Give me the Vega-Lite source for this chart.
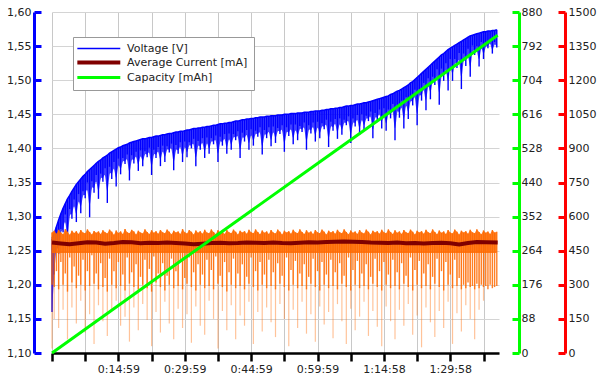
{
"$schema":"https://vega.github.io/schema/vega-lite/v6.json",
"width":447,"height":341,
"autosize":"none",
"padding":{"left":52,"top":12,"right":101,"bottom":27},
"background":"white",
"config":{"view":{"stroke":null},"font":"DejaVu Sans","axis":{"labelFont":"DejaVu Sans","labelFontSize":11,"labelColor":"#222"}},
"datasets":{
"samples":[
{"t":0,"vmax":1.268,"vmin":1.160,"imax":530,"imin":300,"ispike":20},
{"t":0.5,"vmax":1.275,"vmin":1.215,"imax":538,"imin":290,"ispike":150},
{"t":1,"vmax":1.285,"vmin":1.262,"imax":525,"imin":360},
{"t":1.5,"vmax":1.295,"vmin":1.245,"imax":542,"imin":280,"ispike":110},
{"t":2,"vmax":1.304,"vmin":1.282,"imax":530,"imin":400},
{"t":2.5,"vmax":1.312,"vmin":1.277,"imax":522,"imin":300,"ispike":190},
{"t":3,"vmax":1.319,"vmin":1.303,"imax":545,"imin":350},
{"t":3.5,"vmax":1.326,"vmin":1.256,"imax":533,"imin":270,"ispike":60},
{"t":4,"vmax":1.331,"vmin":1.311,"imax":520,"imin":420},
{"t":4.5,"vmax":1.337,"vmin":1.297,"imax":538,"imin":310,"ispike":200},
{"t":5,"vmax":1.342,"vmin":1.325,"imax":528,"imin":380},
{"t":5.5,"vmax":1.347,"vmin":1.292,"imax":536,"imin":285,"ispike":130},
{"t":6,"vmax":1.351,"vmin":1.333,"imax":524,"imin":340},
{"t":6.5,"vmax":1.355,"vmin":1.305,"imax":541,"imin":300,"ispike":230},
{"t":7,"vmax":1.359,"vmin":1.337,"imax":530,"imin":410},
{"t":7.5,"vmax":1.362,"vmin":1.327,"imax":527,"imin":275,"ispike":90},
{"t":8,"vmax":1.366,"vmin":1.350,"imax":544,"imin":360},
{"t":8.5,"vmax":1.369,"vmin":1.299,"imax":532,"imin":295,"ispike":170},
{"t":9,"vmax":1.372,"vmin":1.352,"imax":521,"imin":430},
{"t":9.5,"vmax":1.375,"vmin":1.335,"imax":537,"imin":305,"ispike":40},
{"t":10,"vmax":1.378,"vmin":1.361,"imax":529,"imin":350},
{"t":10.5,"vmax":1.381,"vmin":1.326,"imax":535,"imin":280,"ispike":210},
{"t":11,"vmax":1.383,"vmin":1.363,"imax":523,"imin":395},
{"t":11.5,"vmax":1.386,"vmin":1.351,"imax":540,"imin":290,"ispike":140},
{"t":12,"vmax":1.388,"vmin":1.371,"imax":531,"imin":330},
{"t":12.5,"vmax":1.390,"vmin":1.320,"imax":526,"imin":270,"ispike":75},
{"t":13,"vmax":1.393,"vmin":1.373,"imax":543,"imin":415},
{"t":13.5,"vmax":1.395,"vmin":1.355,"imax":533,"imin":300,"ispike":185},
{"t":14,"vmax":1.397,"vmin":1.380,"imax":520,"imin":360},
{"t":14.5,"vmax":1.399,"vmin":1.344,"imax":539,"imin":285,"ispike":230},
{"t":15,"vmax":1.401,"vmin":1.385,"imax":528,"imin":400},
{"t":15.5,"vmax":1.402,"vmin":1.362,"imax":535,"imin":295,"ispike":120},
{"t":16,"vmax":1.404,"vmin":1.386,"imax":524,"imin":345},
{"t":16.5,"vmax":1.405,"vmin":1.377,"imax":546,"imin":275,"ispike":160},
{"t":17,"vmax":1.406,"vmin":1.391,"imax":531,"imin":420},
{"t":17.5,"vmax":1.408,"vmin":1.353,"imax":527,"imin":305,"ispike":50},
{"t":18,"vmax":1.409,"vmin":1.390,"imax":542,"imin":355},
{"t":18.5,"vmax":1.410,"vmin":1.378,"imax":534,"imin":290,"ispike":200},
{"t":19,"vmax":1.411,"vmin":1.395,"imax":521,"imin":390},
{"t":19.5,"vmax":1.412,"vmin":1.367,"imax":538,"imin":280,"ispike":100},
{"t":20,"vmax":1.413,"vmin":1.397,"imax":530,"imin":335},
{"t":20.5,"vmax":1.414,"vmin":1.374,"imax":526,"imin":300,"ispike":215},
{"t":21,"vmax":1.414,"vmin":1.396,"imax":544,"imin":410},
{"t":21.5,"vmax":1.415,"vmin":1.387,"imax":532,"imin":285,"ispike":145},
{"t":22,"vmax":1.416,"vmin":1.401,"imax":523,"imin":370},
{"t":22.5,"vmax":1.416,"vmin":1.361,"imax":540,"imin":270,"ispike":30},
{"t":23,"vmax":1.417,"vmin":1.398,"imax":529,"imin":425},
{"t":23.5,"vmax":1.418,"vmin":1.386,"imax":536,"imin":310,"ispike":180},
{"t":24,"vmax":1.418,"vmin":1.402,"imax":525,"imin":350},
{"t":24.5,"vmax":1.419,"vmin":1.374,"imax":541,"imin":290,"ispike":90},
{"t":25,"vmax":1.420,"vmin":1.404,"imax":531,"imin":395},
{"t":25.5,"vmax":1.420,"vmin":1.380,"imax":527,"imin":275,"ispike":225},
{"t":26,"vmax":1.421,"vmin":1.403,"imax":543,"imin":340},
{"t":26.5,"vmax":1.422,"vmin":1.394,"imax":533,"imin":300,"ispike":130},
{"t":27,"vmax":1.422,"vmin":1.407,"imax":522,"imin":415},
{"t":27.5,"vmax":1.423,"vmin":1.368,"imax":538,"imin":285,"ispike":60},
{"t":28,"vmax":1.424,"vmin":1.405,"imax":530,"imin":360},
{"t":28.5,"vmax":1.424,"vmin":1.392,"imax":535,"imin":295,"ispike":195},
{"t":29,"vmax":1.425,"vmin":1.409,"imax":524,"imin":400},
{"t":29.5,"vmax":1.425,"vmin":1.380,"imax":545,"imin":280,"ispike":110},
{"t":30,"vmax":1.426,"vmin":1.410,"imax":531,"imin":330},
{"t":30.5,"vmax":1.427,"vmin":1.387,"imax":526,"imin":305,"ispike":170},
{"t":31,"vmax":1.427,"vmin":1.409,"imax":541,"imin":420},
{"t":31.5,"vmax":1.428,"vmin":1.400,"imax":533,"imin":290,"ispike":45},
{"t":32,"vmax":1.429,"vmin":1.414,"imax":521,"imin":355},
{"t":32.5,"vmax":1.429,"vmin":1.374,"imax":539,"imin":275,"ispike":205},
{"t":33,"vmax":1.430,"vmin":1.411,"imax":529,"imin":390},
{"t":33.5,"vmax":1.430,"vmin":1.398,"imax":536,"imin":300,"ispike":120},
{"t":34,"vmax":1.431,"vmin":1.415,"imax":525,"imin":345},
{"t":34.5,"vmax":1.431,"vmin":1.386,"imax":542,"imin":285,"ispike":80},
{"t":35,"vmax":1.432,"vmin":1.416,"imax":530,"imin":410},
{"t":35.5,"vmax":1.432,"vmin":1.392,"imax":527,"imin":295,"ispike":230},
{"t":36,"vmax":1.433,"vmin":1.415,"imax":544,"imin":365},
{"t":36.5,"vmax":1.434,"vmin":1.406,"imax":532,"imin":280,"ispike":150},
{"t":37,"vmax":1.434,"vmin":1.419,"imax":523,"imin":425},
{"t":37.5,"vmax":1.435,"vmin":1.380,"imax":540,"imin":305,"ispike":20},
{"t":38,"vmax":1.436,"vmin":1.417,"imax":529,"imin":340},
{"t":38.5,"vmax":1.436,"vmin":1.404,"imax":535,"imin":290,"ispike":185},
{"t":39,"vmax":1.437,"vmin":1.421,"imax":524,"imin":400},
{"t":39.5,"vmax":1.437,"vmin":1.392,"imax":541,"imin":270,"ispike":100},
{"t":40,"vmax":1.438,"vmin":1.422,"imax":531,"imin":355},
{"t":40.5,"vmax":1.438,"vmin":1.398,"imax":527,"imin":300,"ispike":210},
{"t":41,"vmax":1.439,"vmin":1.421,"imax":543,"imin":415},
{"t":41.5,"vmax":1.440,"vmin":1.412,"imax":533,"imin":285,"ispike":60},
{"t":42,"vmax":1.440,"vmin":1.425,"imax":521,"imin":350},
{"t":42.5,"vmax":1.441,"vmin":1.386,"imax":538,"imin":295,"ispike":165},
{"t":43,"vmax":1.442,"vmin":1.423,"imax":530,"imin":390},
{"t":43.5,"vmax":1.442,"vmin":1.410,"imax":536,"imin":280,"ispike":120},
{"t":44,"vmax":1.443,"vmin":1.427,"imax":525,"imin":335},
{"t":44.5,"vmax":1.443,"vmin":1.398,"imax":542,"imin":305,"ispike":225},
{"t":45,"vmax":1.444,"vmin":1.428,"imax":531,"imin":420},
{"t":45.5,"vmax":1.444,"vmin":1.404,"imax":527,"imin":290,"ispike":40},
{"t":46,"vmax":1.445,"vmin":1.426,"imax":544,"imin":360},
{"t":46.5,"vmax":1.445,"vmin":1.417,"imax":532,"imin":275,"ispike":180},
{"t":47,"vmax":1.446,"vmin":1.431,"imax":522,"imin":400},
{"t":47.5,"vmax":1.446,"vmin":1.391,"imax":539,"imin":300,"ispike":95},
{"t":48,"vmax":1.446,"vmin":1.427,"imax":529,"imin":345},
{"t":48.5,"vmax":1.447,"vmin":1.415,"imax":535,"imin":285,"ispike":200},
{"t":49,"vmax":1.447,"vmin":1.431,"imax":524,"imin":410},
{"t":49.5,"vmax":1.448,"vmin":1.403,"imax":541,"imin":295,"ispike":135},
{"t":50,"vmax":1.448,"vmin":1.432,"imax":530,"imin":355},
{"t":50.5,"vmax":1.448,"vmin":1.408,"imax":526,"imin":280,"ispike":70},
{"t":51,"vmax":1.449,"vmin":1.430,"imax":543,"imin":395},
{"t":51.5,"vmax":1.449,"vmin":1.421,"imax":533,"imin":305,"ispike":215},
{"t":52,"vmax":1.449,"vmin":1.434,"imax":521,"imin":340},
{"t":52.5,"vmax":1.450,"vmin":1.395,"imax":538,"imin":290,"ispike":150},
{"t":53,"vmax":1.450,"vmin":1.431,"imax":530,"imin":420},
{"t":53.5,"vmax":1.450,"vmin":1.418,"imax":536,"imin":275,"ispike":30},
{"t":54,"vmax":1.451,"vmin":1.435,"imax":525,"imin":365},
{"t":54.5,"vmax":1.451,"vmin":1.406,"imax":542,"imin":300,"ispike":190},
{"t":55,"vmax":1.451,"vmin":1.435,"imax":531,"imin":405},
{"t":55.5,"vmax":1.452,"vmin":1.412,"imax":527,"imin":285,"ispike":110},
{"t":56,"vmax":1.452,"vmin":1.433,"imax":544,"imin":350},
{"t":56.5,"vmax":1.452,"vmin":1.424,"imax":532,"imin":295,"ispike":225},
{"t":57,"vmax":1.453,"vmin":1.438,"imax":523,"imin":390},
{"t":57.5,"vmax":1.453,"vmin":1.398,"imax":540,"imin":280,"ispike":85},
{"t":58,"vmax":1.453,"vmin":1.434,"imax":529,"imin":335},
{"t":58.5,"vmax":1.454,"vmin":1.422,"imax":535,"imin":305,"ispike":170},
{"t":59,"vmax":1.454,"vmin":1.438,"imax":524,"imin":415},
{"t":59.5,"vmax":1.455,"vmin":1.410,"imax":541,"imin":290,"ispike":50},
{"t":60,"vmax":1.455,"vmin":1.439,"imax":531,"imin":360},
{"t":60.5,"vmax":1.455,"vmin":1.415,"imax":527,"imin":275,"ispike":205},
{"t":61,"vmax":1.456,"vmin":1.437,"imax":543,"imin":400},
{"t":61.5,"vmax":1.456,"vmin":1.428,"imax":533,"imin":300,"ispike":125},
{"t":62,"vmax":1.457,"vmin":1.442,"imax":521,"imin":345},
{"t":62.5,"vmax":1.457,"vmin":1.402,"imax":538,"imin":285,"ispike":180},
{"t":63,"vmax":1.458,"vmin":1.439,"imax":530,"imin":410},
{"t":63.5,"vmax":1.458,"vmin":1.426,"imax":536,"imin":295,"ispike":65},
{"t":64,"vmax":1.459,"vmin":1.443,"imax":525,"imin":355},
{"t":64.5,"vmax":1.459,"vmin":1.414,"imax":542,"imin":280,"ispike":215},
{"t":65,"vmax":1.460,"vmin":1.444,"imax":531,"imin":395},
{"t":65.5,"vmax":1.460,"vmin":1.420,"imax":527,"imin":305,"ispike":140},
{"t":66,"vmax":1.461,"vmin":1.442,"imax":544,"imin":340},
{"t":66.5,"vmax":1.462,"vmin":1.434,"imax":532,"imin":290,"ispike":40},
{"t":67,"vmax":1.462,"vmin":1.447,"imax":522,"imin":420},
{"t":67.5,"vmax":1.463,"vmin":1.408,"imax":539,"imin":275,"ispike":195},
{"t":68,"vmax":1.463,"vmin":1.444,"imax":529,"imin":365},
{"t":68.5,"vmax":1.464,"vmin":1.432,"imax":535,"imin":300,"ispike":100},
{"t":69,"vmax":1.465,"vmin":1.449,"imax":524,"imin":405},
{"t":69.5,"vmax":1.465,"vmin":1.420,"imax":541,"imin":285,"ispike":160},
{"t":70,"vmax":1.466,"vmin":1.450,"imax":530,"imin":350},
{"t":70.5,"vmax":1.467,"vmin":1.427,"imax":526,"imin":295,"ispike":225},
{"t":71,"vmax":1.467,"vmin":1.448,"imax":543,"imin":390},
{"t":71.5,"vmax":1.468,"vmin":1.440,"imax":533,"imin":280,"ispike":75},
{"t":72,"vmax":1.469,"vmin":1.454,"imax":521,"imin":335},
{"t":72.5,"vmax":1.470,"vmin":1.415,"imax":538,"imin":305,"ispike":185},
{"t":73,"vmax":1.471,"vmin":1.452,"imax":530,"imin":415},
{"t":73.5,"vmax":1.472,"vmin":1.440,"imax":536,"imin":290,"ispike":115},
{"t":74,"vmax":1.473,"vmin":1.457,"imax":525,"imin":360},
{"t":74.5,"vmax":1.474,"vmin":1.429,"imax":542,"imin":275,"ispike":30},
{"t":75,"vmax":1.475,"vmin":1.459,"imax":531,"imin":400},
{"t":75.5,"vmax":1.476,"vmin":1.426,"imax":527,"imin":300,"ispike":205},
{"t":76,"vmax":1.477,"vmin":1.457,"imax":544,"imin":345},
{"t":76.5,"vmax":1.479,"vmin":1.444,"imax":532,"imin":285,"ispike":140},
{"t":77,"vmax":1.480,"vmin":1.465,"imax":523,"imin":410},
{"t":77.5,"vmax":1.482,"vmin":1.412,"imax":540,"imin":295,"ispike":60},
{"t":78,"vmax":1.484,"vmin":1.464,"imax":529,"imin":355},
{"t":78.5,"vmax":1.485,"vmin":1.445,"imax":535,"imin":280,"ispike":190},
{"t":79,"vmax":1.487,"vmin":1.470,"imax":524,"imin":395},
{"t":79.5,"vmax":1.489,"vmin":1.429,"imax":541,"imin":305,"ispike":120},
{"t":80,"vmax":1.491,"vmin":1.475,"imax":531,"imin":340},
{"t":80.5,"vmax":1.493,"vmin":1.443,"imax":527,"imin":290,"ispike":215},
{"t":81,"vmax":1.496,"vmin":1.476,"imax":543,"imin":420},
{"t":81.5,"vmax":1.498,"vmin":1.463,"imax":533,"imin":275,"ispike":80},
{"t":82,"vmax":1.501,"vmin":1.486,"imax":521,"imin":365},
{"t":82.5,"vmax":1.504,"vmin":1.434,"imax":538,"imin":300,"ispike":165},
{"t":83,"vmax":1.507,"vmin":1.487,"imax":530,"imin":405},
{"t":83.5,"vmax":1.510,"vmin":1.470,"imax":536,"imin":285,"ispike":25},
{"t":84,"vmax":1.513,"vmin":1.496,"imax":525,"imin":350},
{"t":84.5,"vmax":1.516,"vmin":1.456,"imax":542,"imin":295,"ispike":200},
{"t":85,"vmax":1.519,"vmin":1.503,"imax":531,"imin":390},
{"t":85.5,"vmax":1.522,"vmin":1.472,"imax":527,"imin":280,"ispike":135},
{"t":86,"vmax":1.525,"vmin":1.505,"imax":544,"imin":335},
{"t":86.5,"vmax":1.528,"vmin":1.493,"imax":532,"imin":305,"ispike":70},
{"t":87,"vmax":1.531,"vmin":1.516,"imax":522,"imin":415},
{"t":87.5,"vmax":1.534,"vmin":1.464,"imax":539,"imin":290,"ispike":185},
{"t":88,"vmax":1.537,"vmin":1.517,"imax":529,"imin":360},
{"t":88.5,"vmax":1.539,"vmin":1.499,"imax":535,"imin":275,"ispike":110},
{"t":89,"vmax":1.542,"vmin":1.525,"imax":524,"imin":400},
{"t":89.5,"vmax":1.545,"vmin":1.485,"imax":541,"imin":300,"ispike":225},
{"t":90,"vmax":1.547,"vmin":1.531,"imax":530,"imin":345},
{"t":90.5,"vmax":1.549,"vmin":1.499,"imax":526,"imin":285,"ispike":40},
{"t":91,"vmax":1.551,"vmin":1.531,"imax":543,"imin":410},
{"t":91.5,"vmax":1.553,"vmin":1.518,"imax":533,"imin":295,"ispike":175},
{"t":92,"vmax":1.555,"vmin":1.540,"imax":521,"imin":330},
{"t":92.5,"vmax":1.557,"vmin":1.487,"imax":538,"imin":280,"ispike":95},
{"t":93,"vmax":1.559,"vmin":1.539,"imax":530,"imin":300},
{"t":93.5,"vmax":1.561,"vmin":1.521,"imax":536,"imin":285,"ispike":210},
{"t":94,"vmax":1.563,"vmin":1.546,"imax":525,"imin":310},
{"t":94.5,"vmax":1.565,"vmin":1.505,"imax":542,"imin":290,"ispike":150},
{"t":95,"vmax":1.566,"vmin":1.551,"imax":531,"imin":295},
{"t":95.5,"vmax":1.567,"vmin":1.537,"imax":527,"imin":280,"ispike":60},
{"t":96,"vmax":1.568,"vmin":1.550,"imax":544,"imin":305},
{"t":96.5,"vmax":1.569,"vmin":1.520,"imax":532,"imin":285,"ispike":190},
{"t":97,"vmax":1.570,"vmin":1.556,"imax":522,"imin":300},
{"t":97.5,"vmax":1.571,"vmin":1.531,"imax":539,"imin":290,"ispike":230},
{"t":98,"vmax":1.571,"vmin":1.553,"imax":529,"imin":295},
{"t":98.5,"vmax":1.572,"vmin":1.547,"imax":535,"imin":280},
{"t":99,"vmax":1.572,"vmin":1.558,"imax":524,"imin":300},
{"t":99.5,"vmax":1.573,"vmin":1.539,"imax":541,"imin":285},
{"t":100,"vmax":1.573,"vmin":1.556,"imax":530,"imin":290},
{"t":100.5,"vmax":1.574,"vmin":1.548,"imax":533,"imin":295}
],
"avg":[
{"t":0,"mA":486},{"t":2,"mA":482},{"t":4,"mA":478},{"t":6,"mA":483},{"t":8,"mA":487},{"t":10,"mA":486},{"t":12,"mA":481},{"t":14,"mA":484},{"t":16,"mA":488},{"t":18,"mA":487},{"t":20,"mA":483},{"t":22,"mA":485},{"t":24,"mA":484},{"t":26,"mA":486},{"t":28,"mA":484},{"t":30,"mA":482},{"t":32,"mA":478},{"t":34,"mA":481},{"t":36,"mA":484},{"t":38,"mA":485},{"t":40,"mA":483},{"t":42,"mA":484},{"t":44,"mA":486},{"t":46,"mA":485},{"t":48,"mA":484},{"t":50,"mA":486},{"t":52,"mA":484},{"t":54,"mA":483},{"t":56,"mA":485},{"t":58,"mA":487},{"t":60,"mA":486},{"t":62,"mA":488},{"t":64,"mA":489},{"t":66,"mA":490},{"t":68,"mA":489},{"t":70,"mA":488},{"t":72,"mA":486},{"t":74,"mA":485},{"t":76,"mA":484},{"t":78,"mA":486},{"t":80,"mA":483},{"t":82,"mA":484},{"t":84,"mA":482},{"t":86,"mA":484},{"t":88,"mA":485},{"t":90,"mA":483},{"t":92,"mA":477},{"t":94,"mA":484},{"t":96,"mA":488},{"t":98,"mA":487},{"t":100.7,"mA":486}
],
"cap":[
{"t":0,"mAh":0},{"t":30,"mAh":245},{"t":60,"mAh":489},{"t":90,"mAh":733},{"t":100.7,"mAh":820}
]
},
"encoding":{
"x":{"field":"t","type":"quantitative","scale":{"domain":[0,101],"nice":false,"zero":false},
"axis":{"title":null,"values":[0,7.5,15,22.5,30,37.5,45,52.5,60,67.5,75,82.5,90,97.5],
"labelExpr":"datum.value==15?'0:14:59':datum.value==30?'0:29:59':datum.value==45?'0:44:59':datum.value==60?'0:59:59':datum.value==75?'1:14:58':datum.value==90?'1:29:58':''",
"domainColor":"#000","domainWidth":2.5,"tickColor":"#000","tickWidth":2.5,"tickSize":8,"labelPadding":2,"labelFlush":false,"labelOverlap":false,
"grid":true,"gridColor":"#c8c8c8","gridWidth":1}}
},
"layer":[
{"data":{"name":"samples"},
 "mark":{"type":"area","color":"#0000ff","opacity":0.75,"interpolate":"basis"},
 "encoding":{"y":{"field":"vmax","type":"quantitative","scale":{"domain":[1.1,1.6],"nice":false,"zero":false},
   "axis":{"title":null,"orient":"left","offset":18,"values":[1.1,1.15,1.2,1.25,1.3,1.35,1.4,1.45,1.5,1.55,1.6],
    "labelExpr":"replace(format(datum.value,'.2f'),'.',',')","domainColor":"#0000ff","domainWidth":3,"tickColor":"#0000ff","tickWidth":3,"tickSize":-7,"labelPadding":10,
    "grid":true,"gridColor":"#d4d4d4","gridWidth":1}},
  "y2":{"field":"vmin"}}},
{"data":{"name":"samples"},
 "mark":{"type":"rule","color":"#0000ff","strokeWidth":1.4},
 "encoding":{"y":{"field":"vmax","type":"quantitative","scale":{"domain":[1.1,1.6],"nice":false,"zero":false},"axis":null},
  "y2":{"field":"vmin"}}},
{"data":{"name":"samples"},
 "mark":{"type":"line","strokeWidth":1.5},
 "encoding":{"y":{"field":"vmax","type":"quantitative","scale":{"domain":[1.1,1.6],"nice":false,"zero":false},"axis":null},
  "color":{"datum":"Voltage [V]","type":"nominal",
   "scale":{"domain":["Voltage [V]","Average Current [mA]","Capacity [mAh]"],"range":["#0000ff","#800000","#00ff00"]},
   "legend":{"orient":"none","legendX":21,"legendY":25,"title":null,"symbolType":"M-1,0H5","symbolSize":205,"symbolStrokeWidth":3,
    "labelFont":"DejaVu Sans","labelFontSize":11,"labelColor":"#222","strokeColor":"#999","fillColor":"#ffffff","padding":6,"rowPadding":0,"labelOffset":37,
    "encode":{"symbols":{"update":{"strokeWidth":{"signal":"datum.value==='Voltage [V]'?1.5:datum.value==='Average Current [mA]'?4:3"},"fill":{"value":"transparent"}}}}}}}},
{"data":{"name":"samples"},"transform":[{"filter":"isValid(datum.ispike)"}],
 "mark":{"type":"rule","color":"#ff6a00","opacity":0.4,"strokeWidth":1.2},
 "encoding":{"y":{"field":"imax","type":"quantitative","scale":{"domain":[0,1500],"nice":false,"zero":false},
   "axis":{"title":null,"orient":"right","offset":66,"values":[0,150,300,450,600,750,900,1050,1200,1350,1500],"format":"d",
    "domainColor":"#ff0000","domainWidth":3,"tickColor":"#ff0000","tickWidth":3,"tickSize":-7,"labelPadding":10,"grid":false}},
  "y2":{"field":"ispike"}}},
{"data":{"name":"samples"},
 "mark":{"type":"area","color":"#ff6a00","opacity":0.85,"interpolate":"linear"},
 "encoding":{"y":{"field":"imax","type":"quantitative","scale":{"domain":[0,1500],"nice":false,"zero":false},"axis":null},
  "y2":{"datum":440}}},
{"data":{"name":"samples"},
 "mark":{"type":"rule","color":"#ff6a00","opacity":0.85,"strokeWidth":1.4},
 "encoding":{"y":{"field":"imax","type":"quantitative","scale":{"domain":[0,1500],"nice":false,"zero":false},"axis":null},"y2":{"field":"imin"}}},
{"data":{"name":"avg"},
 "mark":{"type":"line","strokeWidth":4},
 "encoding":{"y":{"field":"mA","type":"quantitative","scale":{"domain":[0,1500],"nice":false,"zero":false},"axis":null},
  "color":{"datum":"Average Current [mA]","type":"nominal"}}},
{"data":{"name":"cap"},
 "mark":{"type":"line","strokeWidth":3},
 "encoding":{"y":{"field":"mAh","type":"quantitative","scale":{"domain":[0,880],"nice":false,"zero":false},
   "axis":{"title":null,"orient":"right","offset":20,"values":[0,88,176,264,352,440,528,616,704,792,880],"format":"d",
    "domainColor":"#00ff00","domainWidth":3,"tickColor":"#00ff00","tickWidth":3,"tickSize":-7,"labelPadding":9,"grid":false}},
  "color":{"datum":"Capacity [mAh]","type":"nominal"}}}
],
"resolve":{"scale":{"y":"independent"},"axis":{"y":"independent"}}
}
